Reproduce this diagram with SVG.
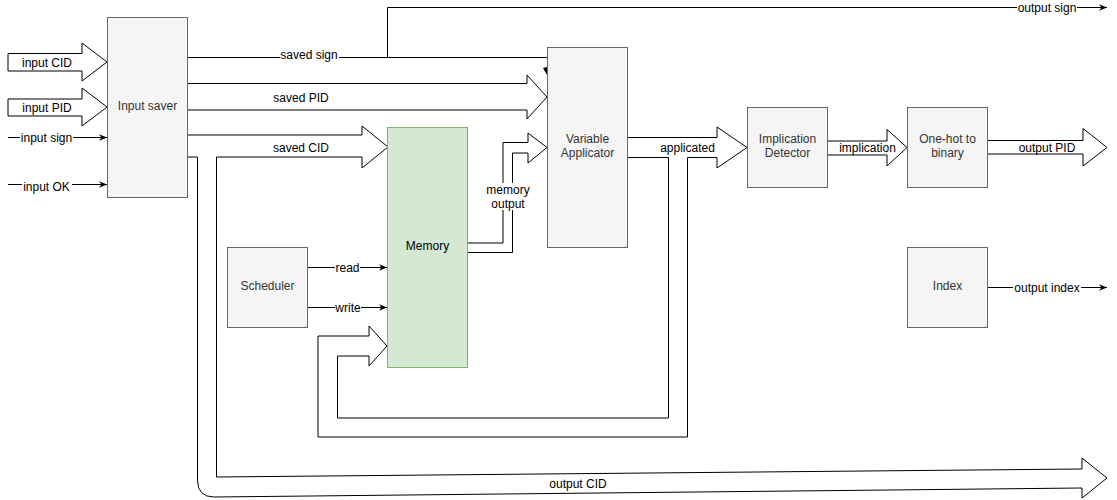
<svg xmlns="http://www.w3.org/2000/svg" width="1117" height="500" viewBox="0 0 1117 500">
<style>
.node{fill:#f5f5f5;stroke:#666666;stroke-width:1}
.ntxt{font-family:"Liberation Sans",Arial,sans-serif;font-size:12px;fill:#333333;text-anchor:middle}
.ltxt{font-family:"Liberation Sans",Arial,sans-serif;font-size:12px;fill:#000000;text-anchor:middle}
.wide{fill:#ffffff;stroke:#000000;stroke-width:1;stroke-linejoin:miter}
.thin{fill:none;stroke:#000000;stroke-width:1}
.lbg{fill:#ffffff;stroke:none}
</style>
<defs>
<marker id="arr" viewBox="0 0 10 10" refX="10" refY="5" markerWidth="8" markerHeight="8" markerUnits="userSpaceOnUse" orient="auto">
<path d="M0,1 L10,5 L0,9 L3,5 z" fill="#000000"/>
</marker>
</defs>
<rect width="1117" height="500" fill="#ffffff"/>

<g id="connectors">
  <!-- input CID -->
  <polygon class="wide" points="8,53.5 82,53.5 82,43 107,62 82,81 82,71 8,71"/>
  <text class="ltxt" x="47" y="66.5">input CID</text>
  <!-- input PID -->
  <polygon class="wide" points="8,99 82,99 82,88 107,107 82,126 82,116 8,116"/>
  <text class="ltxt" x="47" y="111.5">input PID</text>
  <!-- input sign -->
  <line class="thin" x1="8" y1="137.5" x2="107" y2="137.5" marker-end="url(#arr)"/>
  <rect class="lbg" x="20" y="131" width="53" height="13"/>
  <text class="ltxt" x="46.5" y="142">input sign</text>
  <!-- input OK -->
  <line class="thin" x1="8" y1="184.5" x2="107" y2="184.5" marker-end="url(#arr)"/>
  <rect class="lbg" x="22" y="180" width="50" height="13"/>
  <text class="ltxt" x="46.5" y="191">input OK</text>

  <!-- saved sign -->
  <line class="thin" x1="187" y1="57.5" x2="547" y2="57.5"/>
  <polygon points="543,68 547,67 547,75" fill="#000000"/>
  <rect class="lbg" x="280" y="48" width="59" height="13"/>
  <text class="ltxt" x="309" y="59">saved sign</text>
  <!-- output sign -->
  <polyline class="thin" points="387.5,57.5 387.5,7.5 1107,7.5" marker-end="url(#arr)"/>
  <rect class="lbg" x="1017" y="1" width="60" height="13"/>
  <text class="ltxt" x="1047" y="11.5">output sign</text>

  <!-- saved PID -->
  <polygon class="wide" points="187,83.5 527,83.5 527,75 547,97 527,119 527,110 187,110"/>
  <text class="ltxt" x="301" y="102">saved PID</text>

  <!-- saved CID + output CID -->
  <path class="wide" d="M187,135 L362,135 L362,126 L388,147 L362,168 L362,157 L216.5,157 L216.5,477 L1082,469 L1082,458 L1107,478 L1082,498 L1082,488 L214,497 Q197.5,497 197.5,480 L197.5,157 L187,157"/>
  <text class="ltxt" x="301" y="151.5">saved CID</text>
  <text class="ltxt" x="578" y="487.5">output CID</text>

  <!-- read / write -->
  <line class="thin" x1="307" y1="267.5" x2="387" y2="267.5" marker-end="url(#arr)"/>
  <rect class="lbg" x="335" y="261" width="25" height="13"/>
  <text class="ltxt" x="347.5" y="272">read</text>
  <line class="thin" x1="307" y1="307.5" x2="387" y2="307.5" marker-end="url(#arr)"/>
  <rect class="lbg" x="335" y="301" width="26" height="13"/>
  <text class="ltxt" x="348" y="312">write</text>

  <!-- memory output -->
  <polygon class="wide" points="467,243 503,243 503,142.5 528,142.5 528,133 547,147.5 528,163 528,153 512.5,153 512.5,252.5 467,252.5"/>
  <rect class="lbg" x="484" y="183" width="48" height="27"/>
  <text class="ltxt" x="508" y="194">memory</text>
  <text class="ltxt" x="508" y="208">output</text>

  <!-- applicated + feedback -->
  <polygon class="wide" points="627,137.5 717,137.5 717,127 747,147.5 717,168 717,157.5 687.5,157.5 687.5,437 318,437 318,336 369,336 369,326 387,346 369,366 369,356 337.5,356 337.5,418 668.5,418 668.5,157.5 627,157.5"/>
  <text class="ltxt" x="687.5" y="151.5">applicated</text>

  <!-- implication -->
  <polygon class="wide" points="827,141 887,141 887,129.5 907,147.5 887,166 887,155 827,155"/>
  <text class="ltxt" x="867.5" y="151.5">implication</text>

  <!-- output PID -->
  <polygon class="wide" points="987,140.5 1083,140.5 1083,128.5 1107,147.5 1083,166 1083,154 987,154"/>
  <text class="ltxt" x="1047" y="151.5">output PID</text>

  <!-- output index -->
  <line class="thin" x1="987" y1="287.5" x2="1107" y2="287.5" marker-end="url(#arr)"/>
  <rect class="lbg" x="1013" y="281" width="68" height="13"/>
  <text class="ltxt" x="1047" y="292">output index</text>
</g>

<g id="input-saver">
  <rect class="node" x="107.5" y="17.5" width="80" height="180"/>
  <text class="ntxt" x="147.5" y="110">Input saver</text>
</g>
<g id="memory">
  <rect x="387.5" y="127.5" width="80" height="240" fill="#d5e8d4" stroke="#82b366" stroke-width="1"/>
  <text class="ltxt" x="427.5" y="250">Memory</text>
</g>
<g id="scheduler">
  <rect class="node" x="227.5" y="247.5" width="80" height="80"/>
  <text class="ntxt" x="267.5" y="290">Scheduler</text>
</g>
<g id="variable-applicator">
  <rect class="node" x="547.5" y="47.5" width="80" height="200"/>
  <text class="ntxt" x="587.5" y="143">Variable</text>
  <text class="ntxt" x="587.5" y="157">Applicator</text>
</g>
<g id="implication-detector">
  <rect class="node" x="747.5" y="107.5" width="80" height="80"/>
  <text class="ntxt" x="787.5" y="143">Implication</text>
  <text class="ntxt" x="787.5" y="157">Detector</text>
</g>
<g id="one-hot-to-binary">
  <rect class="node" x="907.5" y="107.5" width="80" height="80"/>
  <text class="ntxt" x="947.5" y="143">One-hot to</text>
  <text class="ntxt" x="947.5" y="157">binary</text>
</g>
<g id="index">
  <rect class="node" x="907.5" y="247.5" width="80" height="80"/>
  <text class="ntxt" x="947.5" y="290">Index</text>
</g>
</svg>
